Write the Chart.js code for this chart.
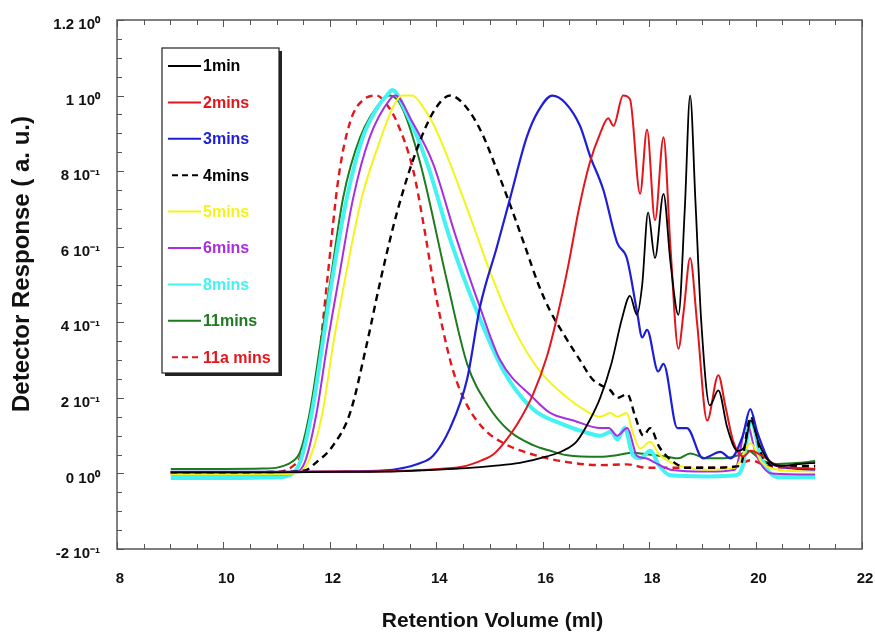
<!DOCTYPE html>
<html>
<head>
<meta charset="utf-8">
<script src="https://cdn.jsdelivr.net/npm/chart.js@4.4.1/dist/chart.umd.min.js"></script>
<style>
  html, body { margin: 0; padding: 0; background: #fff; }
  #wrap { width: 875px; height: 636px; }
</style>
</head>
<body>
<div id="wrap"><canvas id="gpcChart" width="875" height="636"></canvas></div>
<script>
// retention volume (ml) / detector response
const vol1min  = [9.01, 10.02, 11.03, 12.04, 13.05, 13.55, 14.06, 14.56, 15.07, 15.57, 16.08, 16.38, 16.64, 16.88, 17.08, 17.29, 17.49, 17.64, 17.77, 17.87, 17.98, 18.11, 18.27, 18.4, 18.55, 18.67, 18.77, 18.87, 18.98, 19.14, 19.3, 19.47, 19.66, 19.79, 19.91, 20.06, 20.21, 20.47, 20.82, 21.12];
const resp1min = [0.003, 0.003, 0.003, 0.004, 0.005, 0.007, 0.01, 0.014, 0.02, 0.028, 0.045, 0.06, 0.085, 0.14, 0.2, 0.29, 0.41, 0.47, 0.42, 0.5, 0.69, 0.57, 0.74, 0.56, 0.42, 0.7, 1.0, 0.72, 0.4, 0.18, 0.22, 0.12, 0.06, 0.07, 0.14, 0.08, 0.04, 0.02, 0.025, 0.028];

const vol2mins  = [9.01, 10.02, 11.03, 12.04, 13.05, 13.55, 14.06, 14.56, 14.86, 15.07, 15.27, 15.52, 15.82, 16.08, 16.28, 16.48, 16.68, 16.88, 17.08, 17.23, 17.33, 17.51, 17.64, 17.83, 17.96, 18.11, 18.27, 18.4, 18.55, 18.65, 18.77, 18.9, 19.09, 19.3, 19.43, 19.58, 19.77, 19.91, 20.14, 20.41, 20.72, 21.12];
const resp2mins = [0.003, 0.003, 0.004, 0.005, 0.006, 0.008, 0.012, 0.02, 0.035, 0.05, 0.08, 0.13, 0.21, 0.31, 0.42, 0.55, 0.70, 0.82, 0.90, 0.94, 0.92, 1.0, 0.99, 0.74, 0.91, 0.67, 0.89, 0.6, 0.33, 0.43, 0.57, 0.4, 0.14, 0.26, 0.18, 0.085, 0.045, 0.06, 0.045, 0.02, 0.015, 0.012];

const vol3mins  = [9.01, 10.02, 11.03, 12.04, 13.05, 13.32, 13.65, 13.94, 14.26, 14.58, 14.82, 15.14, 15.39, 15.7, 15.92, 16.18, 16.43, 16.7, 16.89, 17.14, 17.4, 17.58, 17.77, 17.87, 17.96, 18.17, 18.27, 18.53, 18.71, 19.01, 19.34, 19.53, 19.76, 19.9, 20.03, 20.27, 20.47, 20.82, 21.12];
const resp3mins = [0.004, 0.004, 0.004, 0.005, 0.008, 0.013, 0.025, 0.047, 0.12, 0.25, 0.44, 0.6, 0.73, 0.89, 0.96, 1.0, 0.98, 0.92, 0.84, 0.75, 0.61, 0.57, 0.43, 0.36, 0.38, 0.27, 0.29, 0.12, 0.12, 0.04, 0.057, 0.04, 0.1, 0.17, 0.11, 0.03, 0.018, 0.012, 0.01];

const vol4mins  = [9.01, 10.02, 11.03, 11.53, 11.75, 12.04, 12.38, 12.69, 12.95, 13.26, 13.64, 13.96, 14.26, 14.56, 14.86, 15.12, 15.39, 15.67, 15.92, 16.14, 16.43, 16.7, 16.93, 17.14, 17.27, 17.4, 17.59, 17.74, 17.89, 18.02, 18.19, 18.46, 18.7, 19.1, 19.71, 19.91, 20.11, 20.42, 21.12];
const resp4mins = [0.003, 0.003, 0.004, 0.008, 0.03, 0.07, 0.16, 0.34, 0.51, 0.69, 0.86, 0.96, 1.0, 0.97, 0.9, 0.81, 0.71, 0.6, 0.5, 0.43, 0.36, 0.3, 0.25, 0.23, 0.22, 0.2, 0.21, 0.15, 0.1, 0.12, 0.07, 0.03, 0.015, 0.015, 0.02, 0.15, 0.05, 0.02, 0.02];

const vol5mins  = [9.01, 10.02, 11.03, 11.33, 11.59, 11.86, 12.06, 12.28, 12.6, 12.89, 13.19, 13.35, 13.55, 13.75, 13.96, 14.26, 14.66, 15.02, 15.47, 15.95, 16.38, 16.76, 17.08, 17.27, 17.4, 17.58, 17.69, 17.83, 18.02, 18.19, 18.4, 18.7, 19.1, 19.61, 19.91, 20.11, 20.42, 21.12];
const resp5mins = [-0.002, -0.002, -0.002, 0.0, 0.03, 0.16, 0.34, 0.51, 0.73, 0.86, 0.97, 1.0, 1.0, 0.97, 0.92, 0.82, 0.67, 0.53, 0.38, 0.27, 0.21, 0.17, 0.15, 0.16, 0.15, 0.16, 0.11, 0.066, 0.084, 0.05, 0.03, 0.015, 0.01, 0.015, 0.08, 0.03, 0.01, 0.005];

const vol6mins  = [9.01, 10.02, 11.03, 11.28, 11.53, 11.75, 11.95, 12.16, 12.44, 12.75, 13.13, 13.23, 13.55, 13.94, 14.36, 14.82, 15.2, 15.82, 16.14, 16.58, 17.08, 17.24, 17.4, 17.59, 17.77, 17.94, 18.09, 18.4, 19.1, 19.61, 19.84, 20.01, 20.31, 21.12];
const resp6mins = [-0.003, -0.003, -0.003, 0.0, 0.03, 0.16, 0.34, 0.51, 0.73, 0.89, 0.99, 1.0, 0.93, 0.82, 0.63, 0.44, 0.3, 0.2, 0.16, 0.14, 0.12, 0.12, 0.10, 0.12, 0.047, 0.04, 0.03, 0.01, 0.005, 0.01, 0.13, 0.05, 0.0, -0.003];

const vol8mins  = [9.01, 10.02, 11.03, 11.23, 11.44, 11.66, 11.86, 12.04, 12.32, 12.62, 12.9, 13.1, 13.17, 13.45, 13.83, 14.26, 14.76, 15.27, 15.82, 16.38, 16.78, 17.08, 17.29, 17.4, 17.54, 17.69, 17.84, 18.02, 18.19, 18.4, 19.1, 19.61, 19.76, 19.91, 20.11, 20.42, 21.12];
const resp8mins = [-0.012, -0.012, -0.01, -0.005, 0.03, 0.16, 0.34, 0.51, 0.73, 0.89, 0.97, 1.005, 1.015, 0.95, 0.82, 0.62, 0.43, 0.27, 0.17, 0.13, 0.11, 0.10, 0.11, 0.09, 0.12, 0.05, 0.04, 0.06, 0.02, -0.005, -0.008, -0.005, 0.02, 0.14, 0.04, -0.01, -0.01];

const vol11mins  = [9.01, 10.02, 10.73, 11.03, 11.28, 11.44, 11.62, 11.82, 12.01, 12.25, 12.57, 13.0, 13.13, 13.35, 13.7, 14.2, 14.58, 14.97, 15.39, 15.82, 16.14, 16.46, 17.08, 17.39, 17.69, 17.99, 18.34, 18.55, 18.77, 19.08, 19.41, 19.71, 19.86, 20.11, 20.42, 20.82, 21.12];
const resp11mins = [0.012, 0.012, 0.013, 0.016, 0.03, 0.057, 0.16, 0.34, 0.51, 0.73, 0.89, 0.99, 1.0, 0.97, 0.82, 0.51, 0.29, 0.18, 0.11, 0.075, 0.06, 0.048, 0.044, 0.048, 0.055, 0.05, 0.044, 0.04, 0.053, 0.04, 0.04, 0.05, 0.06, 0.035, 0.025, 0.028, 0.033];

const vol11a  = [9.01, 10.02, 11.03, 11.31, 11.43, 11.58, 11.75, 11.95, 12.16, 12.38, 12.64, 12.88, 13.05, 13.26, 13.57, 13.76, 13.94, 14.11, 14.32, 14.58, 14.88, 15.2, 15.82, 16.46, 17.08, 17.59, 17.96, 18.6, 19.1, 19.61, 19.91, 20.21, 20.82, 21.12];
const resp11a = [0.003, 0.003, 0.004, 0.02, 0.04, 0.12, 0.25, 0.51, 0.78, 0.93, 0.99, 1.0, 0.98, 0.93, 0.80, 0.66, 0.51, 0.39, 0.27, 0.18, 0.12, 0.085, 0.05, 0.03, 0.022, 0.024, 0.015, 0.015, 0.015, 0.018, 0.035, 0.02, 0.015, 0.015];

const seriesNames = ['1min', '2mins', '3mins', '4mins', '5mins', '6mins', '8mins', '11mins', '11a mins'];
const xTickValues = [8, 10, 12, 14, 16, 18, 20, 22];
const yTickValues = [-0.2, 0, 0.2, 0.4, 0.6, 0.8, 1.0, 1.2];
const yTickLabels = ['-2 10\u207B\u00B9', '0 10\u2070', '2 10\u207B\u00B9', '4 10\u207B\u00B9', '6 10\u207B\u00B9', '8 10\u207B\u00B9', '1 10\u2070', '1.2 10\u2070'];
const xTitle = 'Retention Volume (ml)';
const yTitle = 'Detector Response ( a. u.)';

const FONT = '"Liberation Sans", Arial, sans-serif';
Chart.defaults.font.family = FONT;

function pts(xs, ys) {
    return xs.map((x, i) => ({ x: x, y: ys[i] }));
}

const styles = [
    { color: '#000000', width: 1.8, dash: [] },
    { color: '#e3161c', width: 2, dash: [] },
    { color: '#1e1ed8', width: 2.2, dash: [] },
    { color: '#000000', width: 2.4, dash: [7, 5] },
    { color: '#f4f41a', width: 2, dash: [] },
    { color: '#a82fe0', width: 2, dash: [] },
    { color: '#45f2f2', width: 4, dash: [] },
    { color: '#1e7a1e', width: 2, dash: [] },
    { color: '#e3161c', width: 2.4, dash: [7, 5] }
];
const seriesData = [
    pts(vol1min, resp1min), pts(vol2mins, resp2mins), pts(vol3mins, resp3mins),
    pts(vol4mins, resp4mins), pts(vol5mins, resp5mins), pts(vol6mins, resp6mins),
    pts(vol8mins, resp8mins), pts(vol11mins, resp11mins), pts(vol11a, resp11a)
];

const datasets = seriesNames.map((name, i) => ({
    label: name,
    data: seriesData[i],
    borderColor: styles[i].color,
    backgroundColor: styles[i].color,
    borderWidth: styles[i].width,
    borderDash: styles[i].dash,
    pointRadius: 0,
    fill: false,
    cubicInterpolationMode: 'monotone'
}));

// box round the plot with inward ticks (minor every 0.5 / 0.05)
const frameTicks = {
    id: 'frameTicks',
    afterDatasetsDraw(chart) {
        const { ctx, chartArea: a, scales: { x, y } } = chart;
        ctx.save();
        ctx.strokeStyle = '#555';
        ctx.lineWidth = 1;
        ctx.beginPath();
        for (let k = 16; k <= 44; k++) {
            const px = Math.round(x.getPixelForValue(k / 2)) + 0.5;
            const len = k % 4 === 0 ? 7 : 5;
            ctx.moveTo(px, a.bottom); ctx.lineTo(px, a.bottom - len);
            ctx.moveTo(px, a.top); ctx.lineTo(px, a.top + len);
        }
        for (let k = -4; k <= 24; k++) {
            const py = Math.round(y.getPixelForValue(k / 20)) + 0.5;
            const len = k % 4 === 0 ? 7 : 5;
            ctx.moveTo(a.left, py); ctx.lineTo(a.left + len, py);
        }
        ctx.stroke();
        ctx.lineWidth = 1.5;
        ctx.strokeRect(a.left, a.top, a.right - a.left, a.bottom - a.top);
        ctx.restore();
    }
};

// axis titles placed like the original figure
const axisTitles = {
    id: 'axisTitles',
    afterDraw(chart) {
        const ctx = chart.ctx;
        const a = chart.chartArea;
        ctx.save();
        ctx.fillStyle = '#111';
        ctx.textAlign = 'center';
        ctx.textBaseline = 'middle';
        ctx.font = 'bold 21px ' + FONT;
        ctx.fillText(xTitle, (a.left + a.right) / 2 + 3, 621);
        ctx.translate(22, 264);
        ctx.rotate(-Math.PI / 2);
        ctx.font = 'bold 24px ' + FONT;
        ctx.fillText(yTitle, 0, 0);
        ctx.restore();
    }
};

// legend box inside the plot, text coloured like its line
const boxLegend = {
    id: 'boxLegend',
    afterDraw(chart) {
        const ctx = chart.ctx;
        const bx = 162, by = 48, bw = 117, bh = 325;
        ctx.save();
        ctx.fillStyle = '#222';
        ctx.fillRect(bx + 3, by + 3, bw, bh);
        ctx.fillStyle = '#fff';
        ctx.fillRect(bx, by, bw, bh);
        ctx.strokeStyle = '#222';
        ctx.lineWidth = 1.2;
        ctx.strokeRect(bx, by, bw, bh);
        ctx.font = 'bold 16px ' + FONT;
        ctx.textBaseline = 'middle';
        seriesNames.forEach((name, i) => {
            const ly = by + 18 + i * 36.4;
            const st = styles[i];
            ctx.strokeStyle = st.color;
            ctx.lineWidth = 2;
            ctx.setLineDash(st.dash.length ? [6, 4] : []);
            ctx.beginPath();
            ctx.moveTo(st.dash.length ? 172 : 168, ly);
            ctx.lineTo(201, ly);
            ctx.stroke();
            ctx.fillStyle = st.color;
            ctx.fillText(name, 203, ly + 1);
        });
        ctx.restore();
    }
};

new Chart(document.getElementById('gpcChart'), {
    type: 'line',
    data: { datasets: datasets },
    options: {
        responsive: false,
        animation: false,
        devicePixelRatio: 1,
        layout: { padding: { top: 20, right: 13, left: 0, bottom: 0 } },
        plugins: {
            legend: { display: false },
            tooltip: { enabled: false }
        },
        scales: {
            x: {
                type: 'linear',
                min: 8,
                max: 22,
                afterBuildTicks: scale => { scale.ticks = xTickValues.map(v => ({ value: v })); },
                afterFit: scale => {
                    scale.height = 87;
                    scale.paddingLeft = 0;
                    scale.paddingRight = 0;
                },
                grid: { display: false, drawTicks: false },
                border: { display: false },
                ticks: {
                    padding: 21,
                    labelOffset: 3,
                    color: '#111',
                    font: { size: 15, weight: 'bold' },
                    maxRotation: 0
                }
            },
            y: {
                type: 'linear',
                min: -0.2,
                max: 1.2,
                afterBuildTicks: scale => { scale.ticks = yTickValues.map(v => ({ value: v })); },
                afterFit: scale => {
                    scale.width = 117;
                    scale.paddingTop = 0;
                    scale.paddingBottom = 0;
                },
                grid: { display: false, drawTicks: false },
                border: { display: false },
                ticks: {
                    padding: 17,
                    labelOffset: 5,
                    color: '#111',
                    font: { size: 15, weight: 'bold' },
                    callback: (v, i) => yTickLabels[i]
                }
            }
        }
    },
    plugins: [frameTicks, axisTitles, boxLegend]
});
</script>
</body>
</html>
